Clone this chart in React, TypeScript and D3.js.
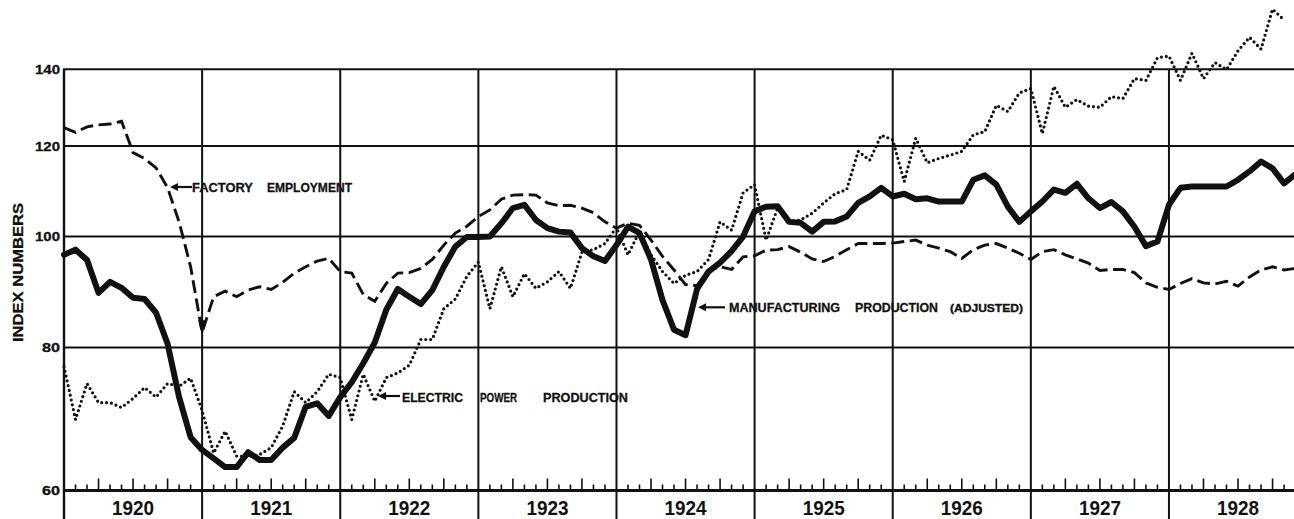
import React from 'react';
import * as d3 from 'd3';

const W = 1294;
const H = 519;

const years = ['1920', '1921', '1922', '1923', '1924', '1925', '1926', '1927', '1928'];
const yTicks = [60, 80, 100, 120, 140];

// Monthly index numbers, Jan 1920 onward
const manufacturing = [
  96.4, 97.4, 95.4, 89.3, 91.3, 90.2, 88.4, 88.2, 85.8, 80.6, 72.4, 66.8,
  65.1, 64.0, 62.9, 62.9, 64.8, 63.8, 63.8, 65.4, 66.7, 71.0, 71.5, 69.7,
  72.4, 74.6, 77.5, 80.8, 86.3, 90.0, 88.6, 87.3, 89.8, 94.1, 98.0, 99.9,
  99.9, 100.0, 102.7, 105.9, 106.6, 103.4, 101.7, 101.0, 100.8, 97.7, 96.1, 95.2,
  98.3, 102.0, 100.7, 95.5, 88.0, 82.9, 82.0, 90.0, 93.2, 94.9, 97.1, 100.0,
  105.2, 106.2, 106.3, 103.0, 102.8, 101.0, 103.0, 103.1, 104.1, 107.0, 108.4, 110.3,
  108.4, 109.0, 107.8, 108.0, 107.3, 107.3, 107.3, 112.1, 113.1, 111.0, 106.2, 103.0,
  105.2, 107.3, 109.9, 109.2, 111.2, 108.0, 105.9, 107.2, 105.2, 102.0, 98.1, 99.0,
  106.6, 110.3, 110.6, 110.6, 110.6, 110.6, 112.1, 114.0, 116.3, 114.7, 111.3, 113.4,
];

const factory = [
  124.5, 123.3, 124.7, 125.2, 125.4, 126.1, 118.4, 117.0, 114.8, 110.3, 103.0, 94.1,
  82.5, 88.6, 89.6, 88.6, 89.8, 90.4, 89.9, 91.2, 92.9, 94.1, 95.2, 95.7,
  93.2, 92.9, 89.0, 87.8, 91.0, 92.9, 93.0, 93.8, 95.5, 98.3, 100.7, 102.1,
  104.1, 105.5, 107.8, 108.7, 108.8, 108.7, 107.0, 106.4, 106.5, 105.9, 104.9, 103.0,
  101.7, 102.7, 102.3, 99.3, 96.1, 93.5, 90.8, 90.6, 93.5, 94.1, 93.6, 96.0,
  96.2, 97.3, 97.4, 98.0, 96.9, 95.6, 95.1, 96.1, 97.4, 98.6, 98.6, 98.6,
  98.7, 99.0, 99.3, 98.3, 97.7, 97.0, 95.7, 97.4, 98.3, 98.6, 97.7, 96.7,
  95.5, 97.0, 97.4, 96.4, 95.6, 94.8, 93.4, 93.6, 93.6, 93.0, 91.1, 90.3,
  89.9, 91.0, 91.9, 91.1, 90.9, 91.4, 90.5, 92.2, 93.5, 94.1, 93.5, 93.8,
];

const electric = [
  77.0, 69.2, 74.4, 71.6, 71.6, 70.9, 72.2, 73.8, 72.4, 74.4, 74.0, 75.2,
  70.5, 64.7, 67.6, 64.3, 64.2, 64.5, 65.4, 68.3, 73.2, 71.6, 73.2, 75.8,
  75.3, 69.2, 75.8, 71.8, 75.3, 76.0, 77.2, 81.3, 81.3, 86.5, 88.2, 92.3,
  95.0, 86.5, 94.1, 88.6, 92.8, 90.1, 91.3, 93.2, 90.1, 96.9, 97.4, 98.6,
  101.9, 96.4, 101.0, 96.4, 93.2, 91.0, 92.5, 93.2, 95.5, 103.0, 101.3, 109.2,
  111.0, 99.3, 105.9, 103.0, 103.4, 104.8, 107.0, 109.0, 109.9, 118.7, 116.6, 122.6,
  121.5, 111.7, 121.9, 116.0, 117.0, 117.8, 118.7, 122.7, 123.5, 130.2, 128.6, 133.5,
  134.7, 123.0, 135.3, 129.7, 131.7, 130.0, 129.7, 132.5, 132.0, 137.4, 136.9, 143.3,
  143.8, 136.9, 144.6, 137.4, 141.9, 139.9, 145.3, 149.3, 145.8, 158.0, 154.6,
];

const FONT = '"Liberation Sans", Arial, Helvetica, sans-serif';

export default function App() {
  const x = d3.scaleLinear().domain([0, 108]).range([64, 64 + 108 * 11.51]);
  const y = d3.scaleLog().domain([60, 140]).range([490.5, 69.3]);
  const line = d3
    .line<number>()
    .x((_, i) => x(i))
    .y((d) => y(d))
    .curve(d3.curveLinear);

  const axisY = y(60);
  const topY = y(140);
  const ink = '#111';

  const months = d3.range(1, 108).filter((i) => i % 12 !== 0 && x(i) < W);
  const yearBounds = d3.range(0, 10).map((k) => x(k * 12)).filter((v) => v <= W);

  const fx = x(12);
  const fy = y(factory[12]);

  const arrow = (tipX: number, tipY: number, len: number) => (
    <g>
      <line x1={tipX + 5} y1={tipY} x2={tipX + len} y2={tipY} stroke={ink} strokeWidth={2.2} />
      <polygon points={`${tipX},${tipY} ${tipX + 8},${tipY - 4} ${tipX + 8},${tipY + 4}`} fill={ink} />
    </g>
  );

  const word = (t: string, x0: number, w: number, base: number, fs = 13) => (
    <text
      x={x0}
      y={base}
      fontSize={fs}
      fontWeight="bold"
      fontFamily={FONT}
      textLength={w}
      lengthAdjust="spacingAndGlyphs"
      fill={ink}
      stroke={ink}
      strokeWidth={0.3}
    >
      {t}
    </text>
  );

  return (
    <svg
      width={W}
      height={H}
      style={{ position: 'absolute', left: 0, top: 0, background: '#fff' }}
    >
      <rect x={0} y={0} width={W} height={H} fill="#fff" />
      {/* horizontal grid */}
      {yTicks.map((t) => (
        <line
          key={t}
          x1={63}
          x2={W}
          y1={y(t)}
          y2={y(t)}
          stroke={ink}
          strokeWidth={t === 60 ? 2.8 : 1.9}
        />
      ))}
      {/* vertical year lines */}
      {yearBounds.map((v, k) => (
        <line key={k} x1={v} x2={v} y1={topY} y2={H} stroke={ink} strokeWidth={k === 0 ? 2.4 : 2} />
      ))}
      {/* month ticks */}
      {months.map((i) => (
        <line
          key={i}
          x1={x(i)}
          x2={x(i)}
          y1={axisY}
          y2={axisY - (i % 3 === 0 ? 12 : 6)}
          stroke={ink}
          strokeWidth={1.6}
        />
      ))}
      {/* y labels */}
      {yTicks.map((t) => (
        <text
          key={t}
          x={60}
          y={y(t) + 4.6}
          textAnchor="end"
          fontSize={12.5}
          fontWeight="bold"
          fontFamily={FONT}
          textLength={t >= 100 ? 25 : 18}
          lengthAdjust="spacingAndGlyphs"
          fill={ink}
          stroke={ink}
          strokeWidth={0.3}
        >
          {t}
        </text>
      ))}
      <text
        transform={`translate(22.5,272.5) rotate(-90)`}
        textAnchor="middle"
        fontSize={14}
        fontWeight="bold"
        fontFamily={FONT}
        textLength={139}
        lengthAdjust="spacingAndGlyphs"
        fill={ink}
        stroke={ink}
        strokeWidth={0.3}
      >
        INDEX NUMBERS
      </text>
      {/* year labels */}
      {years.map((yr, k) => (
        <text
          key={yr}
          x={x(k * 12 + 6)}
          y={514.5}
          textAnchor="middle"
          fontSize={21}
          fontWeight="bold"
          fontFamily={FONT}
          textLength={42}
          lengthAdjust="spacingAndGlyphs"
          fill={ink}
        >
          {yr}
        </text>
      ))}
      {/* series */}
      <path
        d={line(electric) || ''}
        fill="none"
        stroke={ink}
        strokeWidth={3.2}
        strokeLinecap="round"
        strokeDasharray="0 4.9"
      />
      <path
        d={line(factory) || ''}
        fill="none"
        stroke={ink}
        strokeWidth={2.9}
        strokeDasharray="13 5.5"
      />
      <polygon
        points={`${fx},${fy + 4} ${fx - 4},${fy - 12} ${fx + 4},${fy - 12}`}
        fill={ink}
      />
      <path
        d={line(manufacturing) || ''}
        fill="none"
        stroke={ink}
        strokeWidth={6}
        strokeLinejoin="round"
        strokeLinecap="round"
      />
      {/* labels */}
      {arrow(170, 187, 22)}
      {word('FACTORY', 192, 61, 191.8)}
      {word('EMPLOYMENT', 267, 85, 191.8)}
      {arrow(698, 307.3, 27)}
      {word('MANUFACTURING', 729, 111, 311.8, 12.5)}
      {word('PRODUCTION', 855, 83, 311.8, 12.5)}
      {word('(ADJUSTED)', 950, 73, 311.5, 10)}
      {arrow(378, 396, 22)}
      {word('ELECTRIC', 402, 61, 401.8)}
      {word('POWER', 480, 37, 401.8)}
      {word('PRODUCTION', 543, 85, 401.8)}
    </svg>
  );
}
